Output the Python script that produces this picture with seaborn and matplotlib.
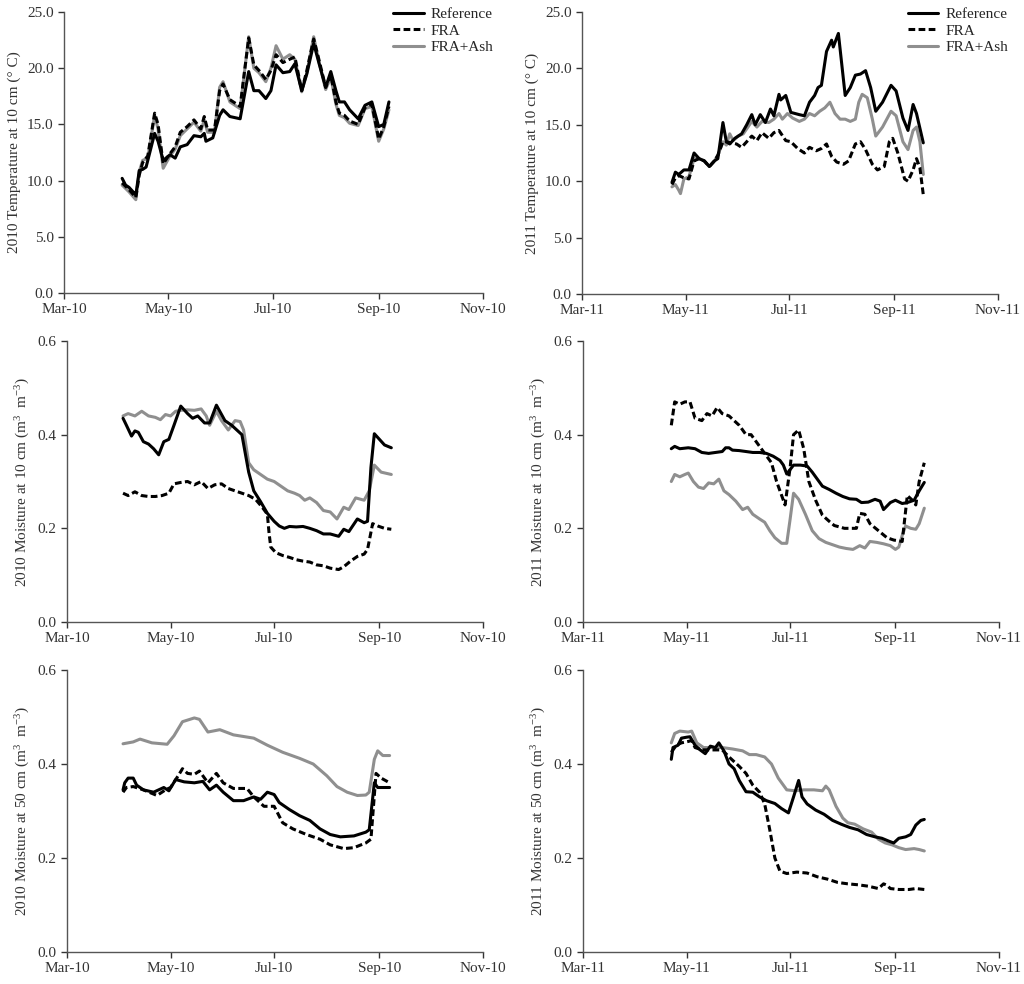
import matplotlib
matplotlib.use("Agg")
import matplotlib.pyplot as plt
import matplotlib.dates as mdates
from matplotlib.ticker import FormatStrFormatter
import numpy as np
import pandas as pd
import seaborn as sns

# days are counted from 1 March of each year

# 2010 soil temperature at 10 cm
t10_ref_days = [34, 36, 38, 41, 42, 44, 46, 48, 50, 53, 55, 58, 62, 65, 68, 72, 76, 80, 82, 83,
                87, 91, 93, 97, 103, 108, 111, 114, 118, 121, 124, 128, 132, 135, 139, 142, 146,
                149, 153, 156, 159, 161, 164, 167, 172, 176, 180, 184, 187, 190]
t10_ref = [10.2, 9.6, 9.4, 8.9, 8.7, 10.9, 11.0, 11.2, 12.4, 14.2, 13.5, 11.8, 12.3, 12.0, 13.0,
           13.2, 14.0, 13.9, 14.2, 13.5, 13.8, 15.8, 16.3, 15.7, 15.5, 19.7, 18.0, 18.0, 17.3, 18.0,
           20.3, 19.6, 19.7, 20.4, 18.0, 19.5, 22.2, 20.5, 18.3, 19.7, 18.0, 17.0, 17.0, 16.3, 15.5,
           16.7, 17.0, 14.8, 15.0, 17.0]
t10_fra_days = [34, 38, 42, 44, 46, 49, 53, 55, 58, 62, 65, 68, 72, 76, 80, 82, 84, 88, 91, 93,
                97, 103, 108, 111, 114, 118, 121, 124, 128, 132, 135, 139, 142, 146, 149, 153, 156,
                159, 161, 164, 167, 172, 176, 180, 184, 187, 190]
t10_fra = [9.8, 9.2, 8.5, 10.5, 11.6, 12.2, 16.0, 15.0, 11.5, 12.4, 13.0, 14.3, 14.8, 15.4, 14.6,
           15.7, 14.5, 14.5, 18.0, 18.6, 17.2, 16.6, 22.7, 20.3, 19.8, 19.0, 19.8, 21.2, 20.5, 20.8,
           21.0, 18.0, 19.8, 22.6, 20.8, 18.3, 19.4, 17.0, 16.0, 15.8, 15.3, 15.0, 16.5, 16.8, 13.7,
           14.8, 16.6]
t10_ash_days = t10_fra_days
t10_ash = [9.6, 9.0, 8.3, 10.8, 11.8, 12.0, 15.8, 14.6, 11.1, 12.2, 12.8, 14.0, 14.6, 15.2, 14.4,
           15.4, 14.3, 14.3, 18.3, 18.8, 17.0, 16.4, 22.8, 20.0, 19.6, 18.8, 20.0, 22.0, 20.8, 21.2,
           20.8, 17.9, 19.6, 22.8, 20.6, 18.1, 19.2, 16.8, 15.8, 15.6, 15.1, 14.9, 16.4, 16.6, 13.5,
           14.6, 16.3]

# 2011 soil temperature at 10 cm
t11_ref_days = [53, 55, 57, 60, 63, 66, 69, 72, 75, 78, 80, 83, 85, 87, 90, 94, 97, 100, 102, 105,
                108, 111, 113, 116, 117, 120, 123, 128, 131, 134, 137, 139, 141, 144, 147, 148, 151,
                155, 158, 161, 164, 167, 170, 173, 177, 182, 185, 189, 192, 195, 197, 201]
t11_ref = [9.9, 10.8, 10.6, 11.0, 11.0, 12.5, 12.0, 11.8, 11.3, 11.8, 12.0, 15.2, 13.5, 13.3, 13.8,
           14.2, 15.0, 15.9, 15.0, 15.9, 15.2, 16.4, 15.8, 17.7, 17.2, 17.6, 16.1, 15.9, 15.8, 17.0,
           17.6, 18.3, 18.5, 21.5, 22.5, 21.9, 23.1, 17.6, 18.3, 19.4, 19.5, 19.8, 18.3, 16.2, 17.0,
           18.5, 18.0, 15.6, 14.5, 16.8, 16.0, 13.4]
t11_fra_days = [53, 55, 57, 60, 63, 66, 69, 72, 75, 78, 80, 83, 85, 88, 91, 94, 97, 100, 103, 106,
                110, 113, 116, 120, 123, 127, 131, 134, 138, 141, 144, 147, 150, 154, 157, 161, 164,
                167, 171, 174, 178, 181, 183, 186, 190, 192, 195, 197, 199, 201]
t11_fra = [9.7, 10.3, 10.5, 10.3, 10.2, 11.8, 12.0, 11.8, 11.3, 11.8, 12.3, 13.5, 13.5, 13.4, 13.3,
           13.0, 13.5, 14.0, 13.6, 14.3, 13.8, 14.3, 14.5, 13.6, 13.5, 12.9, 12.5, 13.0, 12.7, 12.9,
           13.3, 12.2, 11.7, 11.5, 11.8, 13.3, 13.5, 12.8, 11.5, 11.0, 11.3, 13.5, 13.8, 12.5, 10.2,
           10.0, 11.0, 12.0, 11.2, 8.8]
t11_ash_days = [53, 55, 57, 58, 60, 63, 66, 69, 72, 75, 78, 80, 83, 85, 87, 89, 92, 95, 100, 103,
                106, 110, 113, 116, 118, 121, 124, 128, 131, 134, 137, 140, 143, 146, 149, 152, 155,
                158, 161, 163, 165, 168, 171, 173, 177, 182, 185, 189, 192, 195, 197, 199, 201]
t11_ash = [9.5, 9.7, 9.2, 8.9, 10.2, 10.4, 12.0, 12.0, 11.8, 11.3, 11.8, 12.3, 13.5, 13.2, 14.2,
           13.6, 14.0, 14.2, 15.3, 14.8, 15.3, 15.2, 15.5, 16.0, 15.5, 16.0, 15.6, 15.3, 15.5, 16.0,
           15.8, 16.2, 16.5, 17.0, 16.0, 15.5, 15.5, 15.3, 15.5, 17.0, 17.7, 17.4, 15.5, 14.0, 14.8,
           16.2, 15.8, 13.5, 12.8, 14.5, 14.8, 13.5, 10.6]

# 2010 moisture at 10 cm
m10a_ref_days = [33, 35, 38, 40, 42, 45, 48, 51, 54, 57, 60, 63, 67, 71, 74, 77, 81, 84, 88, 93,
                 97, 100, 103, 107, 110, 114, 118, 122, 125, 128, 131, 135, 139, 143, 147, 151, 155,
                 160, 163, 166, 171, 175, 177, 179, 181, 184, 187, 191]
m10a_ref = [0.435, 0.42, 0.397, 0.408, 0.405, 0.385, 0.38, 0.37, 0.357, 0.385, 0.39, 0.42, 0.461,
            0.445, 0.435, 0.44, 0.425, 0.425, 0.463, 0.43, 0.42, 0.41, 0.40, 0.32, 0.28, 0.257,
            0.232, 0.215, 0.205, 0.20, 0.204, 0.203, 0.204, 0.20, 0.195, 0.188, 0.188, 0.183, 0.198,
            0.193, 0.22, 0.212, 0.215, 0.33, 0.402, 0.39, 0.378, 0.372]
m10a_fra_days = [33, 36, 40, 44, 48, 52, 56, 60, 63, 67, 71, 75, 79, 83, 87, 91, 95, 99, 103, 107,
                 111, 115, 118, 119, 120, 123, 127, 131, 135, 139, 143, 147, 151, 155, 160, 163, 167,
                 171, 175, 177, 180, 183, 187, 191]
m10a_fra = [0.275, 0.27, 0.278, 0.27, 0.268, 0.268, 0.27, 0.275, 0.295, 0.298, 0.30, 0.293, 0.30,
            0.285, 0.293, 0.295, 0.285, 0.28, 0.275, 0.27, 0.262, 0.245, 0.23, 0.19, 0.16, 0.148,
            0.142, 0.138, 0.133, 0.13, 0.128, 0.122, 0.12, 0.115, 0.112, 0.118, 0.13, 0.14, 0.145,
            0.155, 0.21, 0.205, 0.20, 0.198]
m10a_ash_days = [33, 36, 40, 44, 48, 52, 55, 58, 61, 64, 67, 71, 75, 79, 82, 84, 88, 91, 95, 99,
                 102, 104, 107, 110, 114, 118, 122, 126, 130, 134, 137, 140, 143, 147, 151, 155, 159,
                 163, 166, 170, 175, 178, 181, 185, 191]
m10a_ash = [0.44, 0.445, 0.44, 0.45, 0.44, 0.437, 0.432, 0.443, 0.44, 0.45, 0.452, 0.453, 0.452,
            0.455, 0.44, 0.42, 0.45, 0.43, 0.41, 0.43, 0.428, 0.41, 0.34, 0.325, 0.315, 0.305, 0.30,
            0.29, 0.28, 0.275, 0.27, 0.26, 0.265, 0.255, 0.238, 0.235, 0.22, 0.245, 0.24, 0.265,
            0.26, 0.28, 0.335, 0.32, 0.315]

# 2011 moisture at 10 cm
m10b_ref_days = [52, 54, 57, 62, 66, 70, 74, 78, 82, 84, 86, 88, 92, 96, 100, 104, 108, 112, 116,
                 118, 120, 124, 128, 132, 135, 138, 141, 145, 149, 153, 157, 161, 164, 168, 172,
                 175, 177, 181, 184, 188, 191, 195, 198, 201]
m10b_ref = [0.37, 0.375, 0.37, 0.372, 0.37, 0.362, 0.36, 0.362, 0.364, 0.372, 0.372, 0.367, 0.366,
            0.364, 0.362, 0.362, 0.36, 0.354, 0.345, 0.335, 0.316, 0.335, 0.335, 0.333, 0.32, 0.305,
            0.29, 0.283, 0.275, 0.268, 0.263, 0.262, 0.255, 0.256, 0.262, 0.258, 0.24, 0.255, 0.26,
            0.253, 0.255, 0.26, 0.28, 0.298]
m10b_fra_days = [52, 54, 57, 60, 63, 66, 70, 73, 76, 79, 82, 86, 92, 96, 99, 103, 107, 111, 114,
                 117, 119, 122, 124, 127, 130, 133, 137, 141, 145, 148, 154, 161, 163, 166, 169,
                 174, 179, 183, 188, 191, 194, 196, 198, 201]
m10b_fra = [0.42, 0.47, 0.465, 0.47, 0.47, 0.435, 0.43, 0.445, 0.44, 0.458, 0.445, 0.44, 0.42,
            0.40, 0.40, 0.38, 0.36, 0.34, 0.30, 0.27, 0.25, 0.33, 0.40, 0.41, 0.37, 0.30, 0.26,
            0.228, 0.215, 0.206, 0.20, 0.20, 0.232, 0.23, 0.21, 0.195, 0.18, 0.175, 0.172, 0.27,
            0.26, 0.25, 0.30, 0.34]
m10b_ash_days = [52, 54, 57, 60, 62, 65, 68, 71, 74, 77, 80, 83, 86, 90, 94, 97, 100, 104, 107,
                 110, 113, 117, 120, 122, 124, 127, 131, 135, 139, 143, 147, 151, 155, 159, 163,
                 166, 169, 173, 177, 181, 184, 186, 188, 190, 193, 196, 198, 201]
m10b_ash = [0.30, 0.315, 0.31, 0.315, 0.318, 0.30, 0.288, 0.285, 0.297, 0.295, 0.305, 0.28, 0.272,
            0.258, 0.24, 0.245, 0.23, 0.22, 0.213, 0.195, 0.18, 0.168, 0.168, 0.22, 0.275, 0.262,
            0.23, 0.195, 0.178, 0.17, 0.165, 0.16, 0.157, 0.155, 0.163, 0.158, 0.172, 0.17, 0.167,
            0.163, 0.155, 0.16, 0.185, 0.205, 0.2, 0.198, 0.21, 0.243]

# 2010 moisture at 50 cm
m50a_ref_days = [33, 34, 36, 39, 41, 45, 51, 57, 60, 64, 69, 75, 80, 84, 88, 92, 98, 104, 110, 114,
                 118, 122, 125, 131, 137, 143, 149, 155, 161, 169, 176, 178, 181, 183, 186, 190]
m50a_ref = [0.345, 0.36, 0.37, 0.37, 0.355, 0.345, 0.34, 0.35, 0.343, 0.367, 0.362, 0.36, 0.363,
            0.345, 0.355, 0.34, 0.322, 0.322, 0.33, 0.325, 0.34, 0.335, 0.318, 0.303, 0.29, 0.28,
            0.262, 0.25, 0.245, 0.247, 0.255, 0.26, 0.36, 0.35, 0.35, 0.35]
m50a_fra_days = [33, 35, 39, 45, 53, 58, 61, 66, 68, 71, 75, 78, 83, 88, 92, 98, 106, 110, 116,
                 122, 127, 133, 141, 149, 155, 163, 169, 176, 179, 182, 185, 190]
m50a_fra = [0.34, 0.35, 0.352, 0.345, 0.333, 0.345, 0.35, 0.378, 0.39, 0.38, 0.378, 0.385, 0.36,
            0.38, 0.36, 0.348, 0.348, 0.33, 0.31, 0.31, 0.275, 0.262, 0.25, 0.24, 0.228, 0.22,
            0.222, 0.232, 0.24, 0.38, 0.37, 0.36]
m50a_ash_days = [33, 39, 43, 50, 59, 63, 68, 75, 78, 83, 90, 98, 110, 118, 127, 137, 145, 153, 159,
                 165, 171, 176, 178, 181, 183, 186, 190]
m50a_ash = [0.443, 0.447, 0.453, 0.445, 0.442, 0.46, 0.49, 0.498, 0.495, 0.468, 0.473, 0.462,
            0.455, 0.44, 0.425, 0.412, 0.40, 0.375, 0.352, 0.34, 0.333, 0.334, 0.34, 0.41, 0.428,
            0.418, 0.418]

# 2011 moisture at 50 cm
m50b_ref_days = [52, 53, 56, 58, 61, 63, 66, 69, 72, 75, 78, 80, 83, 86, 89, 92, 96, 100, 104, 108,
                 113, 117, 121, 124, 127, 129, 132, 137, 142, 147, 152, 157, 162, 167, 172, 176,
                 180, 183, 186, 190, 193, 196, 199, 201]
m50b_ref = [0.41, 0.435, 0.44, 0.455, 0.457, 0.458, 0.44, 0.43, 0.422, 0.438, 0.435, 0.445, 0.428,
            0.40, 0.39, 0.365, 0.341, 0.34, 0.33, 0.322, 0.316, 0.305, 0.296, 0.33, 0.365, 0.33,
            0.315, 0.302, 0.293, 0.28, 0.272, 0.265, 0.26, 0.25, 0.245, 0.242, 0.236, 0.232, 0.242,
            0.245, 0.25, 0.27, 0.28, 0.282]
m50b_fra_days = [52, 55, 58, 62, 64, 66, 70, 74, 78, 82, 86, 92, 96, 100, 104, 107, 110, 113, 116,
                 120, 126, 132, 138, 144, 150, 156, 162, 168, 174, 177, 179, 181, 186, 192, 196, 201]
m50b_fra = [0.425, 0.44, 0.445, 0.448, 0.45, 0.435, 0.43, 0.43, 0.43, 0.43, 0.415, 0.395, 0.38,
            0.355, 0.34, 0.315, 0.26, 0.20, 0.172, 0.167, 0.17, 0.168, 0.16, 0.155, 0.148, 0.145,
            0.143, 0.14, 0.135, 0.145, 0.142, 0.135, 0.133, 0.133, 0.135, 0.133]
m50b_ash_days = [52, 54, 57, 62, 64, 67, 71, 76, 82, 88, 94, 98, 102, 107, 111, 115, 120, 125, 130,
                 136, 141, 143, 145, 149, 153, 156, 160, 165, 170, 174, 178, 182, 186, 190, 195,
                 198, 201]
m50b_ash = [0.445, 0.465, 0.47, 0.468, 0.47, 0.445, 0.435, 0.435, 0.435, 0.432, 0.428, 0.42, 0.42,
            0.415, 0.40, 0.37, 0.345, 0.343, 0.345, 0.345, 0.343, 0.353, 0.345, 0.31, 0.285, 0.275,
            0.272, 0.262, 0.255, 0.24, 0.232, 0.228, 0.222, 0.218, 0.22, 0.218, 0.215]

treatments = ["Reference", "FRA", "FRA+Ash"]
colors = {"Reference": "black", "FRA": "black", "FRA+Ash": "#8f8f8f"}
dash_styles = {"Reference": "", "FRA": (2.2, 1.1), "FRA+Ash": ""}

sns.set_theme(style="ticks")
plt.rcParams["font.family"] = ["Liberation Serif", "DejaVu Serif"]
plt.rcParams["mathtext.fontset"] = "custom"
plt.rcParams["mathtext.rm"] = "Liberation Serif"
plt.rcParams["mathtext.it"] = "Liberation Serif:italic"


def draw(ax, year, series, ymax, ystep, ylabel, legend):
    base = pd.Timestamp(f"{year}-03-01")
    frames = []
    for name, days, vals in zip(treatments, *series):
        frames.append(pd.DataFrame({"date": base + pd.to_timedelta(days, unit="D"),
                                    "value": vals, "treatment": name}))
    df = pd.concat(frames, ignore_index=True)
    sns.lineplot(data=df, x="date", y="value", hue="treatment", style="treatment",
                 hue_order=treatments, style_order=treatments, palette=colors,
                 dashes=dash_styles, estimator=None, sort=False, linewidth=2.2,
                 ax=ax, legend=legend)
    for line in ax.get_lines():
        if line.get_color() == "#8f8f8f":
            line.set_zorder(1.5)
    ax.set_xlim(base, pd.Timestamp(f"{year}-11-01"))
    ax.xaxis.set_major_locator(mdates.MonthLocator(bymonth=[3, 5, 7, 9, 11]))
    ax.xaxis.set_major_formatter(mdates.DateFormatter("%b-%y"))
    ax.set_ylim(0, ymax)
    ax.set_yticks(np.arange(0, ymax + ystep / 2, ystep))
    ax.yaxis.set_major_formatter(FormatStrFormatter("%.1f"))
    ax.set_xlabel("")
    ax.set_ylabel(ylabel, fontsize=11, color="#333333")
    ax.tick_params(labelsize=11, colors="#333333", length=4, width=1)
    for s in ["left", "bottom"]:
        ax.spines[s].set_color("#555555")
        ax.spines[s].set_linewidth(1)
    sns.despine(ax=ax)
    if legend:
        sns.move_legend(ax, "upper right", bbox_to_anchor=(1.05, 1.055), title=None,
                        frameon=False, fontsize=11, handlelength=2.0, labelspacing=0.2,
                        handletextpad=0.45, borderpad=0.2)


fig = plt.figure(figsize=(10.24, 9.84), dpi=100)
W, H = 1024, 984
boxes = {
    (0, 0): (64, 12, 483, 293), (0, 1): (582, 12, 998, 294),
    (1, 0): (67, 341, 483, 622), (1, 1): (583, 341, 999, 622),
    (2, 0): (67, 670, 483, 952), (2, 1): (583, 670, 999, 952),
}
axes = {}
for key, (x0, y0, x1, y1) in boxes.items():
    axes[key] = fig.add_axes([x0 / W, 1 - y1 / H, (x1 - x0) / W, (y1 - y0) / H])

draw(axes[(0, 0)], 2010,
     ([t10_ref_days, t10_fra_days, t10_ash_days], [t10_ref, t10_fra, t10_ash]),
     25, 5, "2010 Temperature at 10 cm (° C)", True)
draw(axes[(0, 1)], 2011,
     ([t11_ref_days, t11_fra_days, t11_ash_days], [t11_ref, t11_fra, t11_ash]),
     25, 5, "2011 Temperature at 10 cm (° C)", True)
draw(axes[(1, 0)], 2010,
     ([m10a_ref_days, m10a_fra_days, m10a_ash_days], [m10a_ref, m10a_fra, m10a_ash]),
     0.6, 0.2, "2010 Moisture at 10 cm (m$^{3}$  m$^{-3}$)", False)
draw(axes[(1, 1)], 2011,
     ([m10b_ref_days, m10b_fra_days, m10b_ash_days], [m10b_ref, m10b_fra, m10b_ash]),
     0.6, 0.2, "2011 Moisture at 10 cm (m$^{3}$  m$^{-3}$)", False)
draw(axes[(2, 0)], 2010,
     ([m50a_ref_days, m50a_fra_days, m50a_ash_days], [m50a_ref, m50a_fra, m50a_ash]),
     0.6, 0.2, "2010 Moisture at 50 cm (m$^{3}$  m$^{-3}$)", False)
draw(axes[(2, 1)], 2011,
     ([m50b_ref_days, m50b_fra_days, m50b_ash_days], [m50b_ref, m50b_fra, m50b_ash]),
     0.6, 0.2, "2011 Moisture at 50 cm (m$^{3}$  m$^{-3}$)", False)

fig.savefig("out.png", dpi=100)
